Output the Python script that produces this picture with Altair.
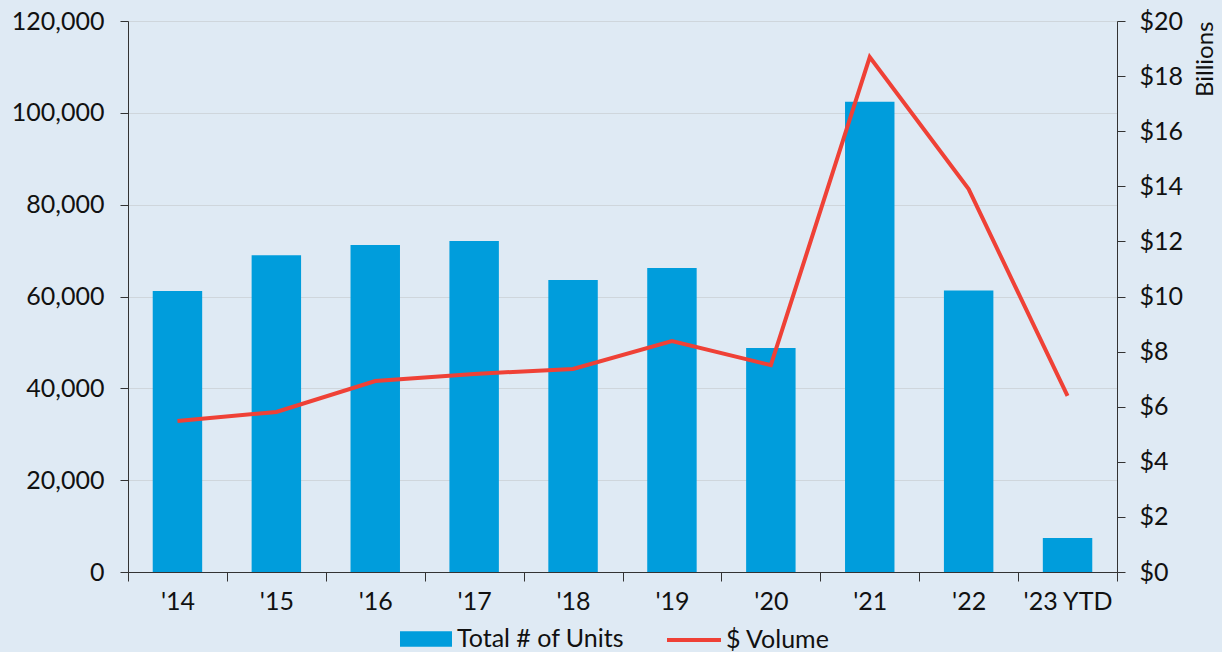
import altair as alt
import pandas as pd

years = ["'14", "'15", "'16", "'17", "'18", "'19", "'20", "'21", "'22", "'23 YTD"]
units = [61200, 69000, 71200, 72100, 63600, 66200, 48800, 102400, 61300, 7400]
volume = [5.48, 5.81, 6.93, 7.19, 7.37, 8.38, 7.51, 18.69, 13.90, 6.39]

df = pd.DataFrame({"year": years, "units": units, "volume": volume,
                   "s1": "Total # of Units", "s2": "$ Volume"})

FONT = "Lato"
FS = 25
BG = "#dfeaf4"
BLUE = "#009ddc"
RED = "#ef4136"
INK = "#111111"

x = alt.X("year:N", sort=years, title=None,
          scale=alt.Scale(paddingInner=0, paddingOuter=0),
          axis=alt.Axis(labelAngle=0, tickBand="extent", labelPadding=8,
                        tickSize=9, domainColor="#333333", tickColor="#333333",
                        labelFontSize=FS, labelColor=INK, grid=False))

bars = alt.Chart(df).mark_bar(color=BLUE, width=alt.RelativeBandSize(0.5)).encode(
    x=x,
    y=alt.Y("units:Q", title=None,
            scale=alt.Scale(domain=[0, 120000], nice=False),
            axis=alt.Axis(values=list(range(0, 120001, 20000)), format=",.0f",
                          tickSize=8, labelPadding=16, labelFontSize=FS,
                          labelColor=INK, domainColor="#333333",
                          tickColor="#333333", gridColor="#cfd6dc", grid=True)),
    color=alt.Color("s1:N", title=None,
                    scale=alt.Scale(range=[BLUE]),
                    legend=alt.Legend(orient="none", legendX=272, legendY=592,
                                      symbolType="M-1,-0.3H1V0.3H-1Z",
                                      symbolSize=2704, symbolStrokeWidth=0,
                                      labelFontSize=FS, labelColor=INK,
                                      labelLimit=400,
                                      labelOffset=5, padding=0)),
)

line = alt.Chart(df).mark_line(color=RED, strokeWidth=4).encode(
    x=x,
    y=alt.Y("volume:Q", title="Billions",
            scale=alt.Scale(domain=[0, 20], nice=False),
            axis=alt.Axis(orient="right", values=list(range(0, 21, 2)),
                          format="$,.0f", tickSize=8, labelPadding=14,
                          labelFontSize=FS, labelColor=INK,
                          domainColor="#333333", tickColor="#333333", grid=False,
                          titleFontSize=24, titleFontWeight="normal",
                          titleColor=INK, titleAngle=270, titleX=88,
                          titleY=0, titleAlign="right", titleBaseline="middle")),
    stroke=alt.Stroke("s2:N", title=None,
                      scale=alt.Scale(range=[RED]),
                      legend=alt.Legend(orient="none", legendX=537, legendY=590,
                                        symbolType="stroke",
                                        symbolSize=2916, symbolStrokeWidth=4,
                                        labelFontSize=FS, labelColor=INK,
                                        labelLimit=400,
                                        labelOffset=3, padding=0)),
)

chart = alt.layer(bars, line).resolve_scale(
    y="independent", color="independent", stroke="independent"
).properties(
    width=989, height=551,
    background=BG,
    padding={"left": 128, "top": 21, "right": 105, "bottom": 80},
    autosize=alt.AutoSizeParams(type="none"),
).configure_view(stroke=None).configure(font=FONT).configure_axis(
    labelFont=FONT, titleFont=FONT
).configure_legend(labelFont=FONT)

chart.save("out.html", embed_options={"renderer": "svg", "actions": False})
